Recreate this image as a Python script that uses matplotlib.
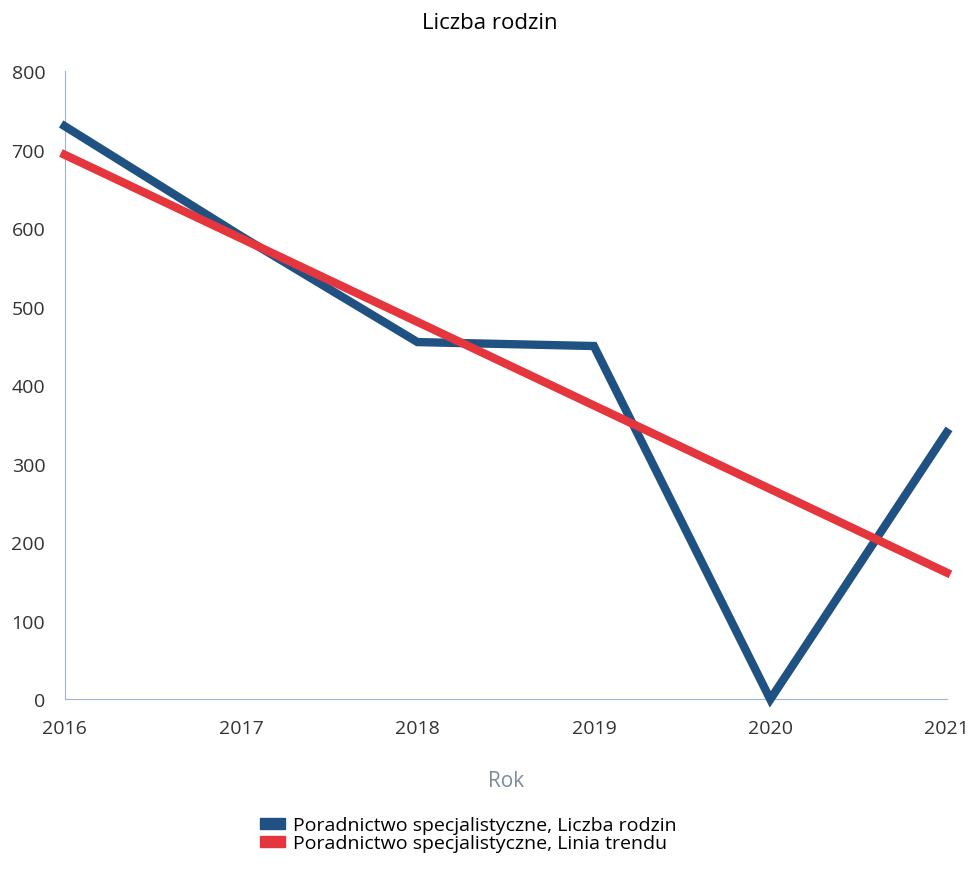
import numpy as np
import matplotlib.pyplot as plt
from matplotlib.patches import Patch

plt.rcParams['font.family'] = ['Open Sans', 'DejaVu Sans']

years = [2016, 2017, 2018, 2019, 2020, 2021]
rodziny = [730, 590, 455, 450, 0, 340]
label_data = 'Poradnictwo specjalistyczne, Liczba rodzin'
label_trend = 'Poradnictwo specjalistyczne, Linia trendu'

blue = '#1f5183'
red = '#e5363d'

# linia trendu liczona z danych (regresja liniowa)
coef = np.polyfit(years, rodziny, 1)
trend = np.polyval(coef, years)

fig = plt.figure(figsize=(9.8, 8.7), dpi=100)
ax = fig.add_axes([0.066, 0.195, 0.9, 0.722])

ax.plot(years, rodziny, color=blue, lw=6, solid_joinstyle='miter', clip_on=False, zorder=3)
ax.plot(years, trend, color=red, lw=6, clip_on=False, zorder=4)

ax.set_xlim(2016, 2021)
ax.set_ylim(0, 800)
ax.set_yticks(range(0, 801, 100))
ax.set_xticks(years)
ax.tick_params(length=0, labelsize=14, colors='#333333')
ax.tick_params(axis='x', pad=14)
ax.tick_params(axis='y', pad=14)
for s in ['top', 'right']:
    ax.spines[s].set_visible(False)
for s in ['left', 'bottom']:
    ax.spines[s].set_color('#9fb3cc')
    ax.spines[s].set_linewidth(0.8)

ax.set_xlabel('Rok', fontsize=15, color='#7f8a99', labelpad=24)
fig.suptitle('Liczba rodzin', fontsize=16, y=0.985)

handles = [Patch(color=blue), Patch(color=red)]
fig.legend(handles, [label_data, label_trend], loc='upper left',
           bbox_to_anchor=(0.255, 0.072), frameon=False, fontsize=14,
           handlelength=1.3, handleheight=0.5, handletextpad=0.4,
           labelspacing=0.0, borderpad=0)

fig.savefig('out.png', dpi=100)
